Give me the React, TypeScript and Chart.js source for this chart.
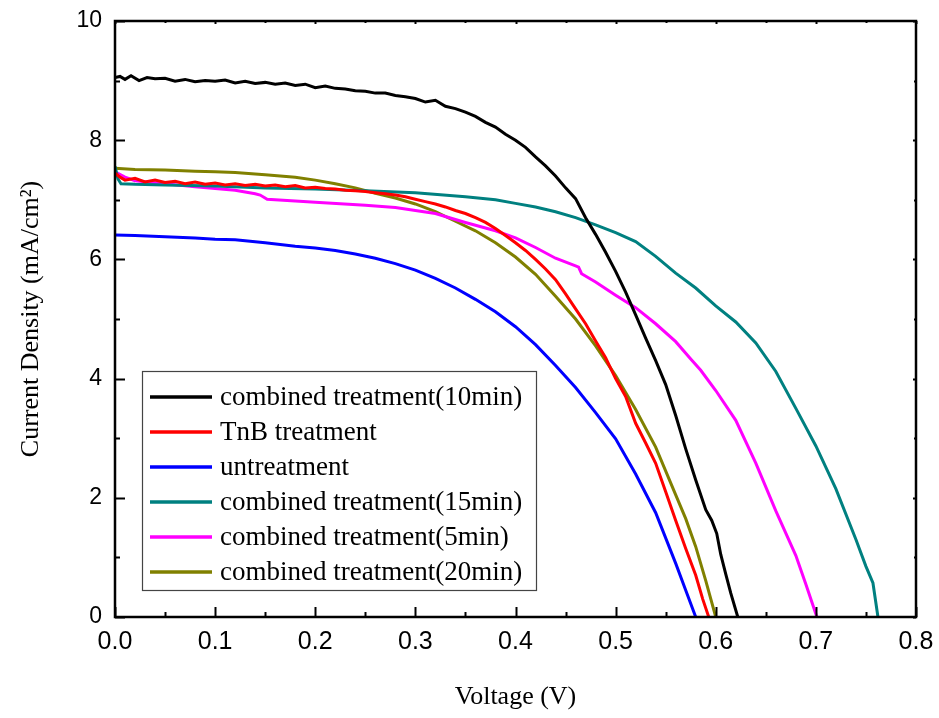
import React, { useEffect, useRef } from "react";
import { Chart, registerables } from "chart.js";

Chart.register(...registerables);

// ---------- data ----------
const seriesLabels = [
  "combined treatment(10min)",
  "TnB treatment",
  "untreatment",
  "combined treatment(15min)",
  "combined treatment(5min)",
  "combined treatment(20min)",
];
const seriesColors = ["#000000", "#ff0000", "#0000ff", "#008080", "#ff00ff", "#808000"];

const v10 = [0, 0.005, 0.01, 0.016, 0.024, 0.032, 0.04, 0.05, 0.06, 0.07, 0.08, 0.09, 0.1, 0.11, 0.12, 0.13, 0.14, 0.15, 0.16, 0.17, 0.18, 0.19, 0.2, 0.21, 0.22, 0.23, 0.24, 0.25, 0.26, 0.27, 0.28, 0.29, 0.3, 0.31, 0.32, 0.33, 0.34, 0.35, 0.36, 0.37, 0.38, 0.39, 0.4, 0.41, 0.42, 0.43, 0.44, 0.45, 0.46, 0.47, 0.48, 0.49, 0.5, 0.51, 0.52, 0.53, 0.54, 0.55, 0.56, 0.57, 0.58, 0.59, 0.596, 0.601, 0.605, 0.61, 0.615, 0.622];
const j10 = [9.05, 9.07, 9.02, 9.08, 9.0, 9.05, 9.03, 9.04, 8.99, 9.02, 8.98, 9.0, 8.99, 9.01, 8.96, 8.99, 8.95, 8.97, 8.94, 8.96, 8.92, 8.94, 8.88, 8.91, 8.87, 8.86, 8.83, 8.82, 8.79, 8.79, 8.75, 8.73, 8.7, 8.64, 8.67, 8.57, 8.53, 8.47, 8.4, 8.3, 8.22, 8.1, 8.0, 7.88, 7.72, 7.57, 7.4, 7.2, 7.02, 6.7, 6.42, 6.12, 5.8, 5.45, 5.07, 4.68, 4.3, 3.9, 3.38, 2.82, 2.3, 1.8, 1.62, 1.4, 1.05, 0.72, 0.4, 0];

const vTnB = [0, 0.005, 0.01, 0.02, 0.03, 0.04, 0.05, 0.06, 0.07, 0.08, 0.09, 0.1, 0.11, 0.12, 0.13, 0.14, 0.15, 0.16, 0.17, 0.18, 0.19, 0.2, 0.21, 0.22, 0.23, 0.24, 0.25, 0.26, 0.27, 0.28, 0.29, 0.3, 0.31, 0.32, 0.33, 0.34, 0.35, 0.36, 0.37, 0.38, 0.39, 0.4, 0.41, 0.42, 0.43, 0.44, 0.45, 0.46, 0.47, 0.48, 0.49, 0.5, 0.51, 0.52, 0.53, 0.54, 0.55, 0.56, 0.57, 0.58, 0.587, 0.593];
const jTnB = [7.45, 7.38, 7.33, 7.36, 7.3, 7.33, 7.29, 7.31, 7.27, 7.3, 7.26, 7.28, 7.25, 7.27, 7.24, 7.26, 7.23, 7.25, 7.22, 7.24, 7.2, 7.21, 7.19, 7.18, 7.16, 7.15, 7.14, 7.12, 7.1, 7.08, 7.05, 7.01, 6.97, 6.93, 6.88, 6.82, 6.77, 6.7, 6.62, 6.52, 6.4, 6.28, 6.15, 6.0, 5.84, 5.66, 5.42, 5.17, 4.92, 4.63, 4.35, 4.0, 3.7, 3.25, 2.92, 2.58, 2.1, 1.62, 1.15, 0.7, 0.3, 0];

const vUn = [0, 0.02, 0.05, 0.08, 0.1, 0.12, 0.15, 0.18, 0.2, 0.22, 0.24, 0.26, 0.28, 0.3, 0.32, 0.34, 0.36, 0.38, 0.4, 0.42, 0.44, 0.46, 0.48, 0.5, 0.52, 0.54, 0.56, 0.57, 0.58];
const jUn = [6.41, 6.4, 6.38, 6.36, 6.34, 6.33, 6.28, 6.22, 6.19, 6.15, 6.09, 6.02, 5.93, 5.82, 5.68, 5.52, 5.33, 5.12, 4.87, 4.57, 4.22, 3.85, 3.43, 2.99, 2.4, 1.75, 0.9, 0.45, 0];

const v15 = [0, 0.003, 0.006, 0.02, 0.05, 0.1, 0.15, 0.2, 0.25, 0.3, 0.35, 0.38, 0.4, 0.42, 0.44, 0.46, 0.48, 0.5, 0.52, 0.54, 0.56, 0.58, 0.6, 0.62, 0.64, 0.66, 0.68, 0.7, 0.72, 0.74, 0.75, 0.757, 0.762];
const j15 = [7.56, 7.35, 7.27, 7.26, 7.25, 7.23, 7.2, 7.18, 7.15, 7.12, 7.05, 7.0, 6.94, 6.88, 6.8, 6.7, 6.58, 6.45, 6.3, 6.05, 5.77, 5.52, 5.22, 4.95, 4.6, 4.12, 3.5, 2.87, 2.15, 1.3, 0.85, 0.57, 0];

const v5 = [0, 0.01, 0.02, 0.05, 0.08, 0.1, 0.12, 0.14, 0.145, 0.152, 0.18, 0.2, 0.25, 0.28, 0.3, 0.32, 0.35, 0.38, 0.4, 0.42, 0.44, 0.46, 0.463, 0.466, 0.48, 0.5, 0.52, 0.54, 0.56, 0.575, 0.585, 0.6, 0.62, 0.64, 0.66, 0.68, 0.69, 0.701];
const j5 = [7.47, 7.38, 7.32, 7.27, 7.22, 7.19, 7.16, 7.1, 7.08, 7.01, 6.98, 6.96, 6.91, 6.87, 6.82, 6.77, 6.62, 6.48, 6.36, 6.2, 6.02, 5.89, 5.87, 5.76, 5.62, 5.4, 5.19, 4.92, 4.62, 4.33, 4.14, 3.8, 3.3, 2.58, 1.78, 1.03, 0.55, 0];

const v20 = [0, 0.02, 0.05, 0.08, 0.1, 0.12, 0.15, 0.18, 0.2, 0.22, 0.24, 0.26, 0.28, 0.3, 0.32, 0.34, 0.36, 0.38, 0.4, 0.42, 0.44, 0.46, 0.48, 0.5, 0.52, 0.54, 0.56, 0.57, 0.58, 0.59, 0.6];
const j20 = [7.53, 7.51, 7.5, 7.48, 7.47, 7.46, 7.42, 7.38, 7.33, 7.27, 7.2, 7.11, 7.03, 6.93, 6.8, 6.64, 6.48, 6.28, 6.04, 5.75, 5.38, 5.0, 4.55, 4.05, 3.48, 2.85, 2.05, 1.65, 1.18, 0.61, 0];

const seriesV = [v10, vTnB, vUn, v15, v5, v20];
const seriesJ = [j10, jTnB, jUn, j15, j5, j20];

const xTickValues = [0, 0.1, 0.2, 0.3, 0.4, 0.5, 0.6, 0.7, 0.8];
const xMinorValues = [0.05, 0.15, 0.25, 0.35, 0.45, 0.55, 0.65, 0.75];
const yTickValues = [0, 2, 4, 6, 8, 10];
const yMinorValues = [1, 3, 5, 7, 9];

const SANS = "'Liberation Sans', Arial, sans-serif";
const SERIF = "'Liberation Serif', 'Times New Roman', serif";

const framePlugin = {
  id: "frameTicksLegend",
  afterDatasetsDraw(chart: any) {
    const ctx = chart.ctx;
    const { left, right, top, bottom } = chart.chartArea;
    const xs = chart.scales.x;
    const ys = chart.scales.y;
    ctx.save();
    ctx.strokeStyle = "#000";
    ctx.lineWidth = 2;
    ctx.beginPath();
    for (const v of xTickValues) {
      const px = Math.round(xs.getPixelForValue(v)) + 0.5;
      ctx.moveTo(px, bottom);
      ctx.lineTo(px, bottom - 10);
      ctx.moveTo(px, top);
      ctx.lineTo(px, top + 3);
    }
    for (const v of xMinorValues) {
      const px = Math.round(xs.getPixelForValue(v)) + 0.5;
      ctx.moveTo(px, bottom);
      ctx.lineTo(px, bottom - 5);
      ctx.moveTo(px, top);
      ctx.lineTo(px, top + 2);
    }
    for (const v of yTickValues) {
      const py = Math.round(ys.getPixelForValue(v)) + 0.5;
      ctx.moveTo(left, py);
      ctx.lineTo(left + 10, py);
      ctx.moveTo(right, py);
      ctx.lineTo(right - 3, py);
    }
    for (const v of yMinorValues) {
      const py = Math.round(ys.getPixelForValue(v)) + 0.5;
      ctx.moveTo(left, py);
      ctx.lineTo(left + 5, py);
      ctx.moveTo(right, py);
      ctx.lineTo(right - 2, py);
    }
    ctx.stroke();
    ctx.lineWidth = 2.5;
    ctx.strokeRect(left, top, right - left, bottom - top);

    // legend box
    const bx = 142, by = 371, bw = 394, bh = 219;
    ctx.fillStyle = "#fff";
    ctx.fillRect(bx, by, bw, bh);
    ctx.lineWidth = 1.2;
    ctx.strokeStyle = "#444";
    ctx.strokeRect(bx + 0.5, by + 0.5, bw, bh);
    ctx.font = `27px ${SERIF}`;
    ctx.textBaseline = "middle";
    ctx.textAlign = "left";
    chart.data.datasets.forEach((ds: any, i: number) => {
      const yy = by + 26 + i * 35;
      ctx.strokeStyle = ds.borderColor;
      ctx.lineWidth = 3.5;
      ctx.beginPath();
      ctx.moveTo(150, yy);
      ctx.lineTo(212, yy);
      ctx.stroke();
      ctx.fillStyle = "#000";
      ctx.fillText(ds.label, 220, yy + 1);
    });
    ctx.restore();
  },
};

export default function App() {
  const ref = useRef<HTMLCanvasElement | null>(null);
  useEffect(() => {
    if (!ref.current) return;
    const datasets = seriesLabels.map((label, i) => ({
      label,
      data: seriesV[i].map((v, k) => ({ x: v, y: seriesJ[i][k] })),
      borderColor: seriesColors[i],
      backgroundColor: seriesColors[i],
      borderWidth: 3,
      pointRadius: 0,
      tension: 0,
      fill: false,
    }));
    const chart = new Chart(ref.current, {
      type: "line",
      data: { datasets },
      options: {
        animation: false,
        responsive: false,
        devicePixelRatio: 1,
        layout: { padding: { left: 0, right: 23, top: 21, bottom: 0 } },
        plugins: { legend: { display: false }, tooltip: { enabled: false } },
        scales: {
          x: {
            type: "linear",
            min: 0,
            max: 0.8,
            afterFit: (s: any) => {
              s.height = 101;
              s.paddingLeft = 0;
              s.paddingRight = 0;
            },
            border: { display: false },
            grid: { display: false, drawTicks: false },
            ticks: {
              stepSize: 0.1,
              padding: 10,
              color: "#000",
              maxRotation: 0,
              font: { family: SANS, size: 25 },
              callback: (v: any) => Number(v).toFixed(1),
            },
            title: {
              display: true,
              text: "Voltage (V)",
              color: "#000",
              font: { family: SERIF, size: 26 },
              padding: { top: 0, bottom: 5 },
            },
          },
          y: {
            min: 0,
            max: 10,
            afterFit: (s: any) => {
              s.width = 115;
              s.paddingTop = 0;
              s.paddingBottom = 0;
            },
            border: { display: false },
            grid: { display: false, drawTicks: false },
            ticks: {
              stepSize: 2,
              padding: 13,
              color: "#000",
              font: { family: SANS, size: 23 },
              callback: (v: any) => String(v),
            },
            title: {
              display: true,
              text: "Current Density (mA/cm²)",
              color: "#000",
              font: { family: SERIF, size: 26 },
              padding: { top: 16, bottom: 0 },
            },
          },
        },
      },
      plugins: [framePlugin],
    });
    return () => chart.destroy();
  }, []);
  return (
    <div style={{ position: "absolute", left: 0, top: 0, width: 939, height: 718, background: "#fff" }}>
      <canvas ref={ref} width={939} height={718} style={{ display: "block" }} />
    </div>
  );
}
